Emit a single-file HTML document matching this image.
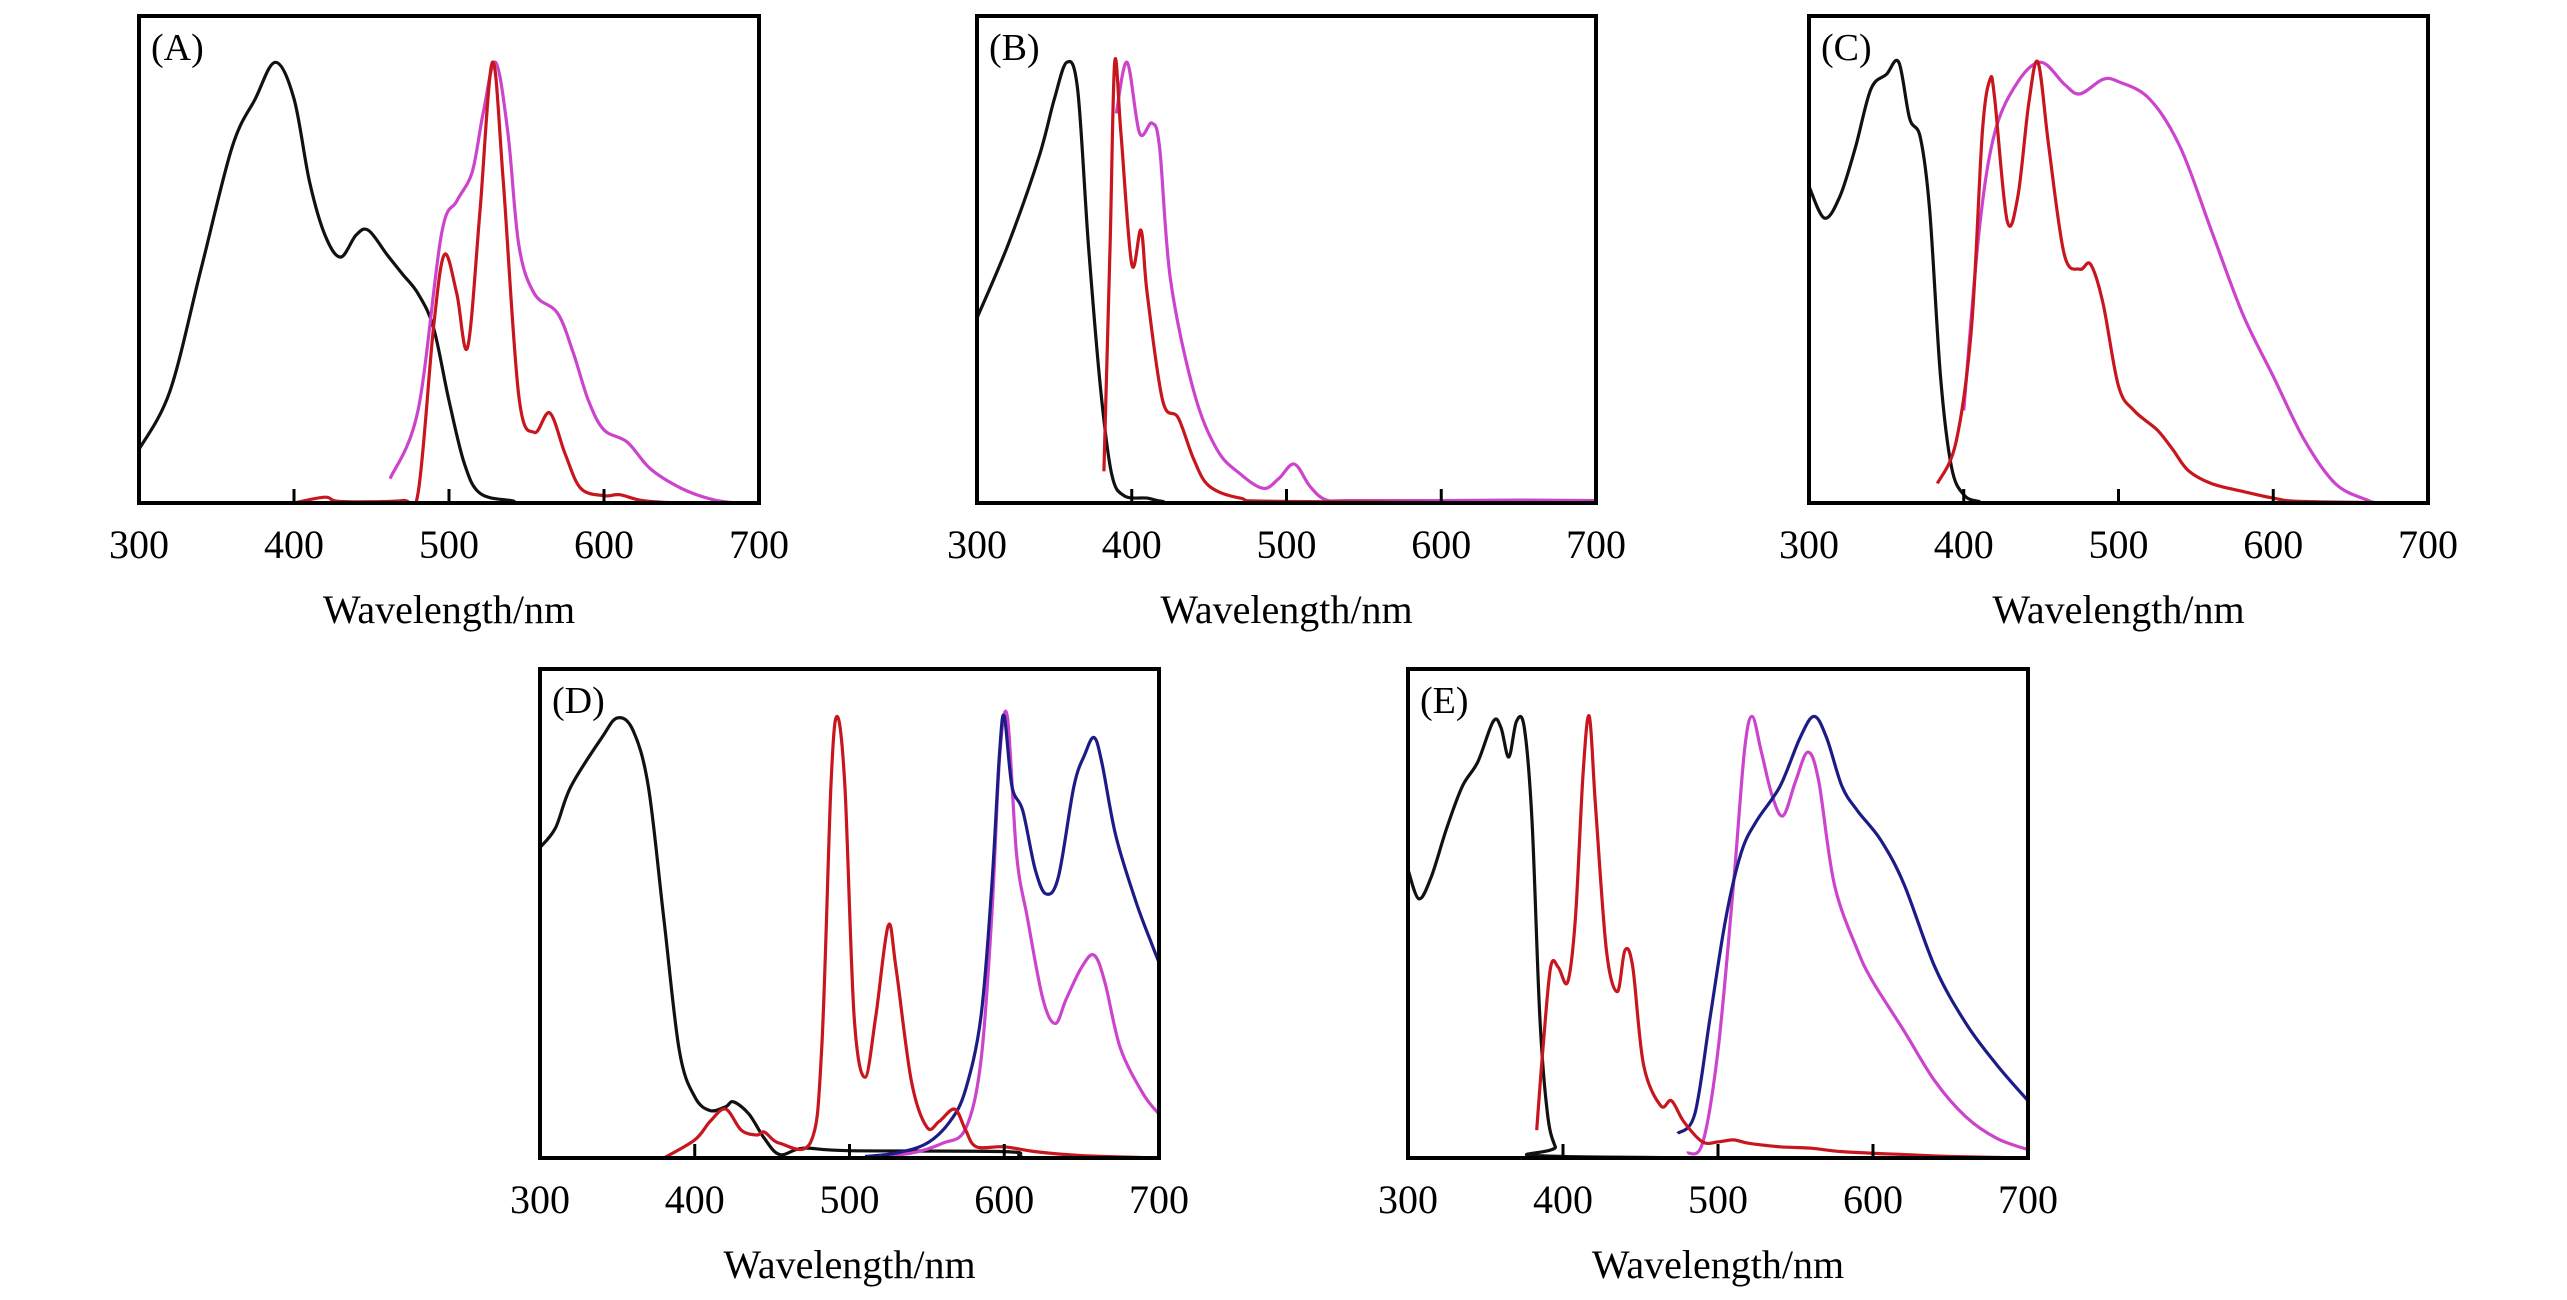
<!DOCTYPE html>
<html><head><meta charset="utf-8"><style>
html,body{margin:0;padding:0;background:#fff;}
svg{display:block;font-family:"Liberation Serif",serif;}
</style></head><body>
<svg id="fig" width="2567" height="1300" viewBox="0 0 2567 1300"></svg>
<script>
// x tick values shared by every panel
const xTicks = [300,400,500,600,700];
// Panel A
const aBlackX=[300,320,340,360,375,388,400,410,420,430,440,448,460,470,480,490,500,510,520,540,560,700];
const aBlackY=[0.11,0.23,0.48,0.73,0.83,0.905,0.83,0.66,0.55,0.505,0.55,0.56,0.51,0.47,0.43,0.36,0.21,0.08,0.02,0.005,0,0];
const aMagX=[462,480,495,505,515,522,530,538,545,555,570,580,590,600,615,630,650,670,685,700];
const aMagY=[0.05,0.19,0.55,0.62,0.68,0.80,0.905,0.76,0.53,0.43,0.39,0.31,0.21,0.15,0.125,0.07,0.03,0.007,0,0];
const aRedX=[400,420,430,470,480,490,497,505,512,520,528,535,545,555,565,575,585,600,610,625,650,700];
const aRedY=[0,0.012,0.003,0.005,0.02,0.36,0.51,0.43,0.32,0.60,0.905,0.66,0.22,0.145,0.185,0.10,0.03,0.015,0.017,0.005,0,0];
// Panel B
const bBlackX=[300,320,340,350,358,365,372,380,387,395,410,420,440,700];
const bBlackY=[0.38,0.53,0.71,0.83,0.905,0.85,0.53,0.23,0.06,0.015,0.01,0.003,0,0];
const bRedX=[382,386,389,393,400,406,410,420,430,440,450,470,500,700];
const bRedY=[0.065,0.53,0.905,0.76,0.49,0.56,0.43,0.21,0.175,0.09,0.035,0.01,0.003,0];
const bMagX=[390,397,405,413,418,425,440,455,470,485,495,505,515,525,540,600,650,700];
const bMagY=[0.80,0.905,0.76,0.78,0.73,0.46,0.23,0.11,0.06,0.03,0.05,0.08,0.035,0.007,0.005,0.005,0.006,0.005];
// Panel C
const cBlackX=[300,310,320,330,340,350,358,365,372,378,385,392,400,410,420,700];
const cBlackY=[0.65,0.585,0.63,0.73,0.85,0.88,0.905,0.79,0.75,0.60,0.26,0.075,0.017,0.003,0,0];
const cRedX=[383,395,405,412,417,420,428,435,442,448,455,465,475,482,490,500,510,525,535,545,560,580,600,620,700];
const cRedY=[0.04,0.125,0.36,0.76,0.87,0.83,0.58,0.63,0.82,0.905,0.73,0.51,0.48,0.49,0.41,0.24,0.19,0.15,0.11,0.067,0.04,0.024,0.01,0.003,0];
const cMagX=[400,410,420,435,450,465,475,490,500,520,540,560,580,600,620,640,660,670,700];
const cMagY=[0.19,0.56,0.76,0.865,0.905,0.86,0.84,0.87,0.865,0.83,0.73,0.56,0.39,0.26,0.13,0.04,0.007,0,0];
// Panel D
const dBlackX=[300,310,320,340,350,360,370,380,390,400,410,420,425,435,445,455,470,500,600,610,620,700];
const dBlackY=[0.635,0.675,0.76,0.86,0.90,0.875,0.76,0.49,0.22,0.125,0.097,0.105,0.115,0.09,0.04,0.007,0.02,0.015,0.013,0.005,0,0];
const dRedX=[380,400,410,420,430,440,445,455,475,482,488,492,497,503,510,517,525,530,540,550,558,568,575,582,600,620,650,700];
const dRedY=[0,0.037,0.075,0.10,0.057,0.047,0.053,0.03,0.033,0.22,0.76,0.903,0.76,0.29,0.165,0.29,0.475,0.39,0.157,0.063,0.075,0.10,0.057,0.023,0.023,0.013,0.005,0];
const dBlueX=[510,530,550,565,575,585,592,597,600,605,612,620,627,635,645,652,658,663,672,685,695,700];
const dBlueY=[0.003,0.01,0.03,0.075,0.14,0.29,0.56,0.83,0.903,0.76,0.71,0.59,0.54,0.575,0.76,0.825,0.86,0.81,0.66,0.525,0.44,0.40];
const dMagX=[510,540,560,575,585,592,597,602,608,615,625,633,640,650,658,665,675,690,700];
const dMagY=[0,0.01,0.03,0.06,0.20,0.50,0.82,0.903,0.62,0.49,0.325,0.275,0.325,0.39,0.415,0.36,0.225,0.13,0.09];
// Panel E
const eBlackX=[300,307,315,325,335,345,355,360,365,370,375,380,385,390,395,400,700];
const eBlackY=[0.59,0.53,0.575,0.675,0.76,0.81,0.893,0.88,0.82,0.893,0.88,0.69,0.29,0.09,0.023,0.003,0];
const eRedX=[383,387,392,397,403,408,413,417,421,428,435,440,445,452,463,470,478,490,500,510,520,540,560,580,620,650,700];
const eRedY=[0.057,0.22,0.39,0.39,0.36,0.49,0.79,0.903,0.72,0.425,0.34,0.425,0.39,0.19,0.107,0.117,0.074,0.033,0.033,0.037,0.03,0.023,0.02,0.013,0.007,0.003,0];
const eBlueX=[474,485,495,505,515,525,540,553,562,570,580,590,605,620,640,660,680,700];
const eBlueY=[0.05,0.09,0.29,0.49,0.625,0.69,0.76,0.86,0.903,0.86,0.76,0.71,0.65,0.56,0.39,0.275,0.19,0.117];
const eMagX=[480,490,500,510,517,522,528,535,542,550,558,565,575,590,600,620,640,660,680,700];
const eMagY=[0.01,0.03,0.22,0.56,0.83,0.903,0.83,0.74,0.70,0.77,0.83,0.77,0.56,0.425,0.36,0.26,0.157,0.084,0.04,0.017];

const NS='http://www.w3.org/2000/svg';
const svg=document.getElementById('fig');
const C={black:'#111',red:'#c8161e',mag:'#cc44cc',blue:'#1c1c86'};
function mk(tag,attrs,parent){const e=document.createElementNS(NS,tag);for(const k in attrs)e.setAttribute(k,attrs[k]);(parent||svg).appendChild(e);return e;}
function path(pts){
  let d='M'+pts[0][0].toFixed(1)+','+pts[0][1].toFixed(1);
  for(let i=0;i<pts.length-1;i++){
    const p0=pts[i-1]||pts[i],p1=pts[i],p2=pts[i+1],p3=pts[i+2]||p2;
    const c1=[p1[0]+(p2[0]-p0[0])/6,p1[1]+(p2[1]-p0[1])/6];
    const c2=[p2[0]-(p3[0]-p1[0])/6,p2[1]-(p3[1]-p1[1])/6];
    d+='C'+c1[0].toFixed(1)+','+c1[1].toFixed(1)+' '+c2[0].toFixed(1)+','+c2[1].toFixed(1)+' '+p2[0].toFixed(1)+','+p2[1].toFixed(1);
  }
  return d;
}
function panel(key,L,T,W,H,series){
  const g=mk('g',{});
  
  
  const xs=v=>L+(v-300)/400*W, ys=v=>T+H-v*H;
  const cp=mk('clipPath',{id:'cp'+key},g);
  mk('rect',{x:L,y:T,width:W,height:H},cp);
  series.forEach(s=>{
    const pts=s.x.map((v,i)=>[xs(v),ys(s.y[i])]);
    const p=mk('path',{d:path(pts),fill:'none',stroke:s.c,'stroke-width':3.2,'stroke-linejoin':'round','clip-path':'url(#cp'+key+')'},g);
    
    
  });
  const box=mk('rect',{x:L,y:T,width:W,height:H,fill:'none',stroke:'#000','stroke-width':4},g);
  
  
  xTicks.forEach(t=>{
    if(t>300&&t<700){
      const tk=mk('line',{x1:xs(t),x2:xs(t),y1:T+H,y2:T+H-14,stroke:'#000','stroke-width':3},g);
      
      
    }
    const lb=mk('text',{x:xs(t),y:T+H+55,'text-anchor':'middle','font-size':40,fill:'#000'},g);
    lb.textContent=t;
    
    
  });
  const ttl=mk('text',{x:L+W/2,y:T+H+120,'text-anchor':'middle','font-size':40,fill:'#000'},g);
  ttl.textContent='Wavelength/nm';
  
  
  const pl=mk('text',{x:L+12,y:T+44,'font-size':38,fill:'#000'},g);
  pl.textContent='('+key+')';
  
  
}
panel('A',139,16,620,487,[{n:'black',x:aBlackX,y:aBlackY,c:C.black},{n:'magenta',x:aMagX,y:aMagY,c:C.mag},{n:'red',x:aRedX,y:aRedY,c:C.red}]);
panel('B',977,16,619,487,[{n:'black',x:bBlackX,y:bBlackY,c:C.black},{n:'magenta',x:bMagX,y:bMagY,c:C.mag},{n:'red',x:bRedX,y:bRedY,c:C.red}]);
panel('C',1809,16,619,487,[{n:'black',x:cBlackX,y:cBlackY,c:C.black},{n:'magenta',x:cMagX,y:cMagY,c:C.mag},{n:'red',x:cRedX,y:cRedY,c:C.red}]);
panel('D',540,669,619,489,[{n:'black',x:dBlackX,y:dBlackY,c:C.black},{n:'magenta',x:dMagX,y:dMagY,c:C.mag},{n:'blue',x:dBlueX,y:dBlueY,c:C.blue},{n:'red',x:dRedX,y:dRedY,c:C.red}]);
panel('E',1408,669,620,489,[{n:'black',x:eBlackX,y:eBlackY,c:C.black},{n:'magenta',x:eMagX,y:eMagY,c:C.mag},{n:'blue',x:eBlueX,y:eBlueY,c:C.blue},{n:'red',x:eRedX,y:eRedY,c:C.red}]);
</script>
</body></html>
